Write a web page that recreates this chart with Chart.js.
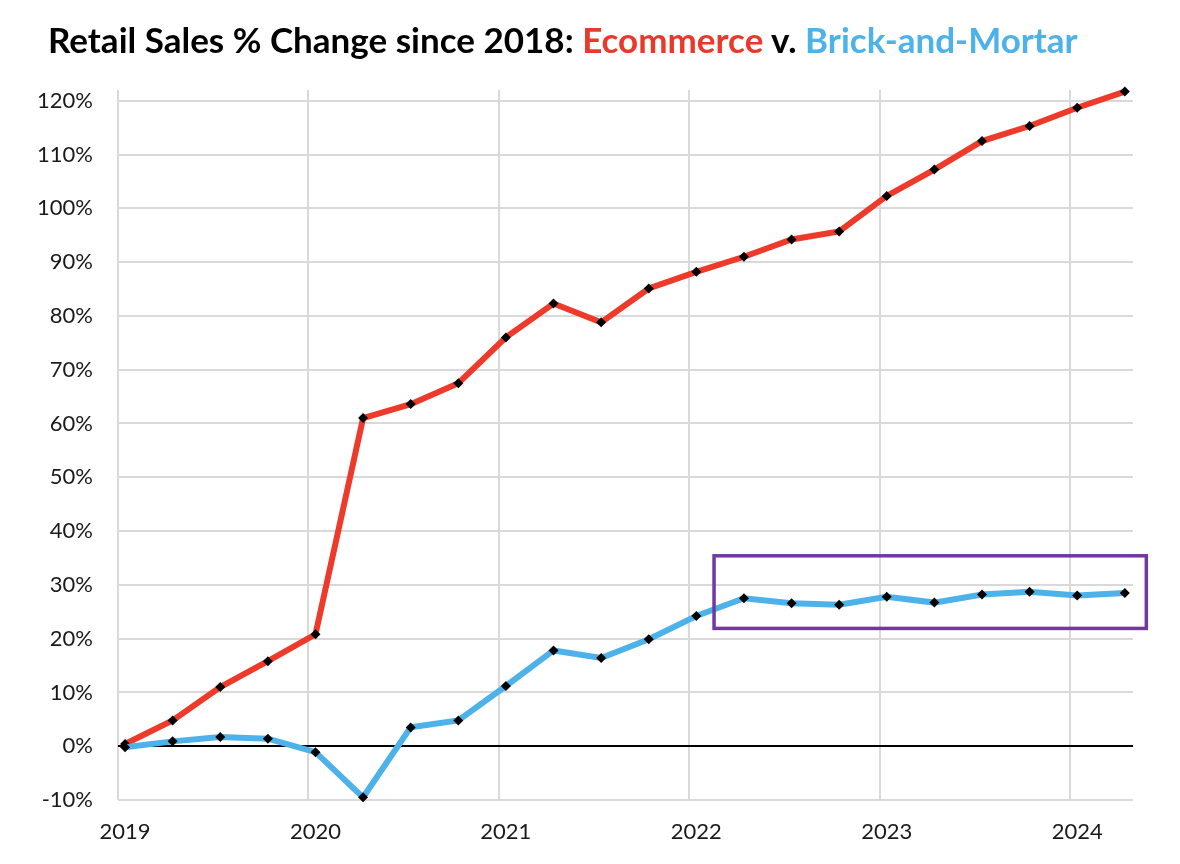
<!DOCTYPE html>
<html>
<head>
<meta charset="utf-8">
<script src="https://cdn.jsdelivr.net/npm/chart.js@4"></script>
<style>
    body { margin: 0; background: #fff; }
    #wrap { position: relative; width: 1180px; height: 864px; }
    #title {
        position: absolute; left: 48px; top: 18px;
        font-family: Lato, sans-serif; font-weight: bold; font-size: 35px;
        color: #000; white-space: nowrap;
    }
    #title .ecom { color: #E8392B; }
    #title .brick { color: #4DB2EA; }
    canvas { position: absolute; left: 0; top: 0; }
</style>
</head>
<body>
<div id="wrap">
    <canvas id="chart" width="1180" height="864"></canvas>
    <div id="title">Retail Sales % Change since 2018: <span class="ecom">Ecommerce</span> v. <span class="brick">Brick-and-Mortar</span></div>
</div>
<script>
// Quarterly data, 2019 Q1 .. 2024 Q2
const startYear = 2019;
const ecommerce = [0.4, 4.8, 11.0, 15.8, 20.8, 61.0, 63.6, 67.5, 76.0, 82.3, 78.8, 85.1,
                   88.2, 91.0, 94.2, 95.7, 102.3, 107.2, 112.5, 115.3, 118.7, 121.7];
const brickMortar = [-0.2, 0.9, 1.7, 1.4, -1.1, -9.5, 3.5, 4.8, 11.2, 17.8, 16.4, 19.9,
                     24.2, 27.5, 26.6, 26.3, 27.8, 26.7, 28.2, 28.7, 28.0, 28.5];
const yTicks = { min: -10, max: 122, step: 10 };
// highlighted region (year, % units)
const highlightBox = { x0: 2022.13, x1: 2024.4, y0: 21.9, y1: 35.4 };

const pointShift = 0.037;  // Excel puts quarter marks slightly right of year gridline
function toPoints(values) {
    return values.map((v, i) => ({ x: startYear + i / 4 + pointShift, y: v }));
}

const boxPlugin = {
    id: 'highlightBox',
    afterDatasetsDraw(chart) {
        const { ctx, scales: { x, y } } = chart;
        const left = x.getPixelForValue(highlightBox.x0);
        const right = x.getPixelForValue(highlightBox.x1);
        const top = y.getPixelForValue(highlightBox.y1);
        const bottom = y.getPixelForValue(highlightBox.y0);
        ctx.save();
        ctx.strokeStyle = '#7038A0';
        ctx.lineWidth = 3.5;
        ctx.strokeRect(left, top, right - left, bottom - top);
        ctx.restore();
    }
};

const ctx = document.getElementById('chart').getContext('2d');
new Chart(ctx, {
    type: 'line',
    data: {
        datasets: [
            {
                label: 'Ecommerce',
                data: toPoints(ecommerce),
                borderColor: '#EE3A2A',
                borderWidth: 6,
                pointStyle: 'rectRot',
                pointRadius: 5,
                pointBackgroundColor: '#000',
                pointBorderWidth: 0,
                tension: 0,
                clip: false,
                order: 2
            },
            {
                label: 'Brick-and-Mortar',
                data: toPoints(brickMortar),
                borderColor: '#4DB2EA',
                borderWidth: 6,
                pointStyle: 'rectRot',
                pointRadius: 5,
                pointBackgroundColor: '#000',
                pointBorderWidth: 0,
                tension: 0,
                clip: false,
                order: 1
            }
        ]
    },
    options: {
        responsive: false,
        animation: false,
        layout: { padding: { top: 90, right: 47, bottom: 0, left: 0 } },
        plugins: {
            legend: { display: false },
            tooltip: { enabled: false }
        },
        scales: {
            x: {
                type: 'linear',
                min: startYear,
                max: 2024.33,
                afterFit(scale) { scale.height = 64; },
                border: { display: false },
                grid: {
                    color: '#D9D9D9',
                    lineWidth: 2,
                    drawTicks: false
                },
                ticks: {
                    stepSize: 1,
                    includeBounds: false,
                    labelOffset: 7,
                    padding: 19,
                    color: '#1a1a1a',
                    font: { family: 'Lato', size: 22 },
                    callback: v => String(v)
                }
            },
            y: {
                min: yTicks.min,
                max: yTicks.max,
                afterFit(scale) { scale.width = 118; },
                border: { display: false },
                grid: {
                    color: c => c.tick.value === 0 ? '#000' : '#D9D9D9',
                    lineWidth: 2,
                    drawTicks: false
                },
                ticks: {
                    stepSize: yTicks.step,
                    includeBounds: false,
                    padding: 25,
                    color: '#1a1a1a',
                    font: { family: 'Lato', size: 22 },
                    callback: v => v + '%'
                }
            }
        }
    },
    plugins: [boxPlugin]
});
</script>
</body>
</html>
